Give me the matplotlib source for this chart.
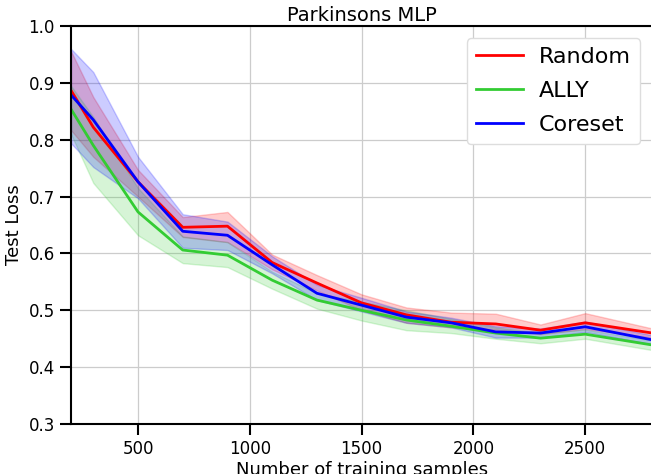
import matplotlib
matplotlib.use("Agg")
import matplotlib.pyplot as plt

# training set sizes
n_samples = [200, 300, 500, 700, 900, 1100, 1300, 1500, 1700, 1900, 2100, 2300, 2500, 2800]

# mean test loss per method
random_mean = [0.887, 0.822, 0.726, 0.646, 0.648, 0.584, 0.548, 0.513, 0.492, 0.479, 0.476, 0.465, 0.478, 0.460]
ally_mean = [0.854, 0.790, 0.673, 0.606, 0.597, 0.553, 0.518, 0.500, 0.483, 0.472, 0.460, 0.451, 0.458, 0.439]
coreset_mean = [0.879, 0.835, 0.726, 0.639, 0.632, 0.580, 0.530, 0.509, 0.488, 0.478, 0.462, 0.460, 0.471, 0.448]

# shaded band (lower / upper)
random_lo = [0.817, 0.770, 0.700, 0.629, 0.620, 0.572, 0.535, 0.500, 0.478, 0.470, 0.466, 0.458, 0.467, 0.452]
random_hi = [0.956, 0.875, 0.747, 0.664, 0.673, 0.598, 0.562, 0.528, 0.505, 0.496, 0.494, 0.475, 0.495, 0.468]
ally_lo = [0.810, 0.724, 0.632, 0.583, 0.576, 0.538, 0.503, 0.482, 0.465, 0.460, 0.450, 0.442, 0.450, 0.430]
ally_hi = [0.895, 0.840, 0.715, 0.630, 0.620, 0.568, 0.530, 0.515, 0.500, 0.485, 0.470, 0.460, 0.466, 0.447]
coreset_lo = [0.794, 0.752, 0.697, 0.610, 0.606, 0.565, 0.518, 0.498, 0.478, 0.470, 0.452, 0.452, 0.462, 0.440]
coreset_hi = [0.960, 0.919, 0.770, 0.669, 0.656, 0.595, 0.545, 0.522, 0.498, 0.487, 0.472, 0.468, 0.480, 0.456]

series = [
    ("Random", random_mean, random_lo, random_hi, "#ff0000"),
    ("ALLY", ally_mean, ally_lo, ally_hi, "#33cc33"),
    ("Coreset", coreset_mean, coreset_lo, coreset_hi, "#0000ff"),
]

fig = plt.figure(figsize=(6.51, 4.74), dpi=100)
ax = fig.add_axes([0.109, 0.1055, 0.893, 0.8395])

for name, mean, lo, hi, color in series:
    ax.plot(n_samples, mean, color=color, linewidth=2, label=name)
    ax.fill_between(n_samples, lo, hi, color=color, alpha=0.2, linewidth=1)

ax.set_xlim(200, 2800)
ax.set_ylim(0.3, 1.0)
ax.set_xticks([500, 1000, 1500, 2000, 2500])
ax.set_yticks([0.3, 0.4, 0.5, 0.6, 0.7, 0.8, 0.9, 1.0])
ax.grid(True, color="#cccccc", linewidth=0.9)
ax.set_axisbelow(True)

for s in ax.spines.values():
    s.set_linewidth(1.5)
    s.set_color("black")

ax.tick_params(axis="both", direction="out", length=8, width=1.5, labelsize=12)
ax.set_xlabel("Number of training samples", fontsize=13, labelpad=2)
ax.set_ylabel("Test Loss", fontsize=13)
ax.set_title("Parkinsons MLP", fontsize=14, pad=4)

ax.legend(loc="upper right", fontsize=16, framealpha=1.0, edgecolor="#dddddd",
          handlelength=2.1, handletextpad=0.75, borderpad=0.4, labelspacing=0.63,
          borderaxespad=0.55)

fig.savefig("out.png", dpi=100)
